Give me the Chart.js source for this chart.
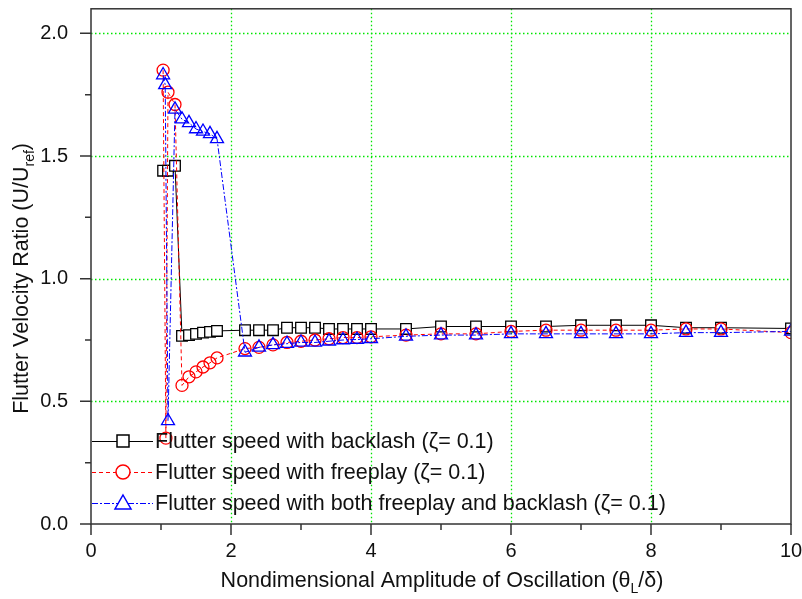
<!DOCTYPE html>
<html>
<head>
<meta charset="utf-8">
<script src="https://cdn.jsdelivr.net/npm/chart.js@4.4.0/dist/chart.umd.min.js"></script>
<style>
  html, body { margin: 0; padding: 0; background: #fff; }
  #wrap { width: 802px; height: 599px; position: relative; }
</style>
</head>
<body>
<div id="wrap"><canvas id="chart" width="802" height="599"></canvas></div>
<script>
// Dados
const backlashX = [1.03, 1.1, 1.2, 1.3, 1.4, 1.5, 1.6, 1.7, 1.8, 2.2, 2.4, 2.6, 2.8, 3.0, 3.2, 3.4, 3.6, 3.8, 4.0, 4.5, 5.0, 5.5, 6.0, 6.5, 7.0, 7.5, 8.0, 8.5, 9.0, 10.0];
const backlashY = [1.44, 1.44, 1.46, 0.767, 0.77, 0.775, 0.78, 0.783, 0.787, 0.79, 0.79, 0.79, 0.80, 0.80, 0.80, 0.795, 0.795, 0.795, 0.795, 0.795, 0.805, 0.805, 0.805, 0.805, 0.81, 0.81, 0.81, 0.80, 0.80, 0.797];

const freeplayX = [1.03, 1.07, 1.1, 1.2, 1.3, 1.4, 1.5, 1.6, 1.7, 1.8, 2.2, 2.4, 2.6, 2.8, 3.0, 3.2, 3.4, 3.6, 3.8, 4.0, 4.5, 5.0, 5.5, 6.0, 6.5, 7.0, 7.5, 8.0, 8.5, 9.0, 10.0];
const freeplayY = [1.85, 0.35, 1.76, 1.71, 0.565, 0.60, 0.62, 0.64, 0.657, 0.677, 0.715, 0.72, 0.73, 0.74, 0.745, 0.75, 0.755, 0.76, 0.76, 0.763, 0.77, 0.775, 0.775, 0.785, 0.79, 0.79, 0.79, 0.79, 0.795, 0.795, 0.78];

const bothX = [1.03, 1.06, 1.1, 1.2, 1.3, 1.4, 1.5, 1.6, 1.7, 1.8, 2.2, 2.4, 2.6, 2.8, 3.0, 3.2, 3.4, 3.6, 3.8, 4.0, 4.5, 5.0, 5.5, 6.0, 6.5, 7.0, 7.5, 8.0, 8.5, 9.0, 10.0];
const bothY = [1.83, 1.79, 0.42, 1.69, 1.65, 1.635, 1.61, 1.60, 1.59, 1.57, 0.70, 0.72, 0.73, 0.735, 0.74, 0.74, 0.745, 0.75, 0.752, 0.755, 0.765, 0.77, 0.77, 0.775, 0.775, 0.775, 0.775, 0.775, 0.78, 0.78, 0.785];

const xMajorTicks = [0, 2, 4, 6, 8, 10];
const xMinorTicks = [1, 3, 5, 7, 9];
const yMajorTicks = [0, 0.5, 1.0, 1.5, 2.0];
const yMinorTicks = [0.25, 0.75, 1.25, 1.75];

const legendLabels = [
    'Flutter speed with backlash (\u03B6= 0.1)',
    'Flutter speed with freeplay (\u03B6= 0.1)',
    'Flutter speed with both freeplay and backlash (\u03B6= 0.1)'
];

const FONT = '"Liberation Sans", Arial, sans-serif';

function toPoints(xs, ys) {
    return xs.map((x, i) => ({ x: x, y: ys[i] }));
}

// Desenha grade, moldura, marcas, títulos e legenda
const decorPlugin = {
    id: 'decor',
    beforeDatasetsDraw(chart) {
        const ctx = chart.ctx;
        const a = chart.chartArea;
        const xs = chart.scales.x, ys = chart.scales.y;
        ctx.save();
        ctx.strokeStyle = '#00e600';
        ctx.lineWidth = 1.3;
        ctx.setLineDash([1.5, 2.5]);
        xMajorTicks.forEach(v => {
            if (v === 0 || v === 10) return;
            const px = Math.round(xs.getPixelForValue(v)) + 0.5;
            ctx.beginPath(); ctx.moveTo(px, a.top); ctx.lineTo(px, a.bottom); ctx.stroke();
        });
        yMajorTicks.forEach(v => {
            if (v === 0) return;
            const py = Math.round(ys.getPixelForValue(v)) + 0.5;
            ctx.beginPath(); ctx.moveTo(a.left, py); ctx.lineTo(a.right, py); ctx.stroke();
        });
        ctx.restore();
    },
    afterDraw(chart) {
        const ctx = chart.ctx;
        const a = chart.chartArea;
        const xs = chart.scales.x, ys = chart.scales.y;
        ctx.save();
        ctx.setLineDash([]);
        ctx.strokeStyle = '#333';
        ctx.lineWidth = 1.5;
        ctx.strokeRect(a.left, a.top, a.right - a.left, a.bottom - a.top);

        // marcas dos eixos
        ctx.beginPath();
        xMajorTicks.forEach(v => {
            const px = xs.getPixelForValue(v);
            ctx.moveTo(px, a.bottom); ctx.lineTo(px, a.bottom + 11);
        });
        xMinorTicks.forEach(v => {
            const px = xs.getPixelForValue(v);
            ctx.moveTo(px, a.bottom); ctx.lineTo(px, a.bottom + 6);
        });
        yMajorTicks.forEach(v => {
            const py = ys.getPixelForValue(v);
            ctx.moveTo(a.left, py); ctx.lineTo(a.left - 11, py);
        });
        yMinorTicks.forEach(v => {
            const py = ys.getPixelForValue(v);
            ctx.moveTo(a.left, py); ctx.lineTo(a.left - 6, py);
        });
        ctx.stroke();

        // título do eixo x com subscrito
        ctx.fillStyle = '#111';
        ctx.textBaseline = 'alphabetic';
        const big = '21.5px ' + FONT, small = '14px ' + FONT;
        const xParts = [['Nondimensional Amplitude of Oscillation (\u03B8', big, 0], ['L', small, 6], ['/\u03B4)', big, 0]];
        drawParts(ctx, xParts, (a.left + a.right) / 2 + 1, 587);

        // título do eixo y, girado
        ctx.save();
        ctx.translate(28, (a.top + a.bottom) / 2 + 12);
        ctx.rotate(-Math.PI / 2);
        const yParts = [['Flutter Velocity Ratio (U/U', big, 0], ['ref', small, 6], [')', big, 0]];
        drawParts(ctx, yParts, 0, 0);
        ctx.restore();

        // legenda
        const styles = [
            { color: '#000', dash: [], shape: 'square' },
            { color: '#ff0000', dash: [4, 3], shape: 'circle' },
            { color: '#0000ff', dash: [6, 2, 2, 2], shape: 'triangle' }
        ];
        ctx.font = '21.5px ' + FONT;
        styles.forEach((s, i) => {
            const y = 441 + i * 31;
            ctx.strokeStyle = s.color;
            ctx.lineWidth = 1.2;
            ctx.setLineDash(s.dash);
            ctx.beginPath(); ctx.moveTo(a.left + 1, y + 0.5); ctx.lineTo(a.left + 62, y + 0.5); ctx.stroke();
            ctx.setLineDash([]);
            ctx.lineWidth = 1.5;
            ctx.fillStyle = '#fff';
            const mx = a.left + 32;
            ctx.beginPath();
            if (s.shape === 'square') {
                ctx.rect(mx - 6, y - 6, 12, 12);
            } else if (s.shape === 'circle') {
                ctx.arc(mx, y, 7, 0, Math.PI * 2);
            } else {
                ctx.moveTo(mx, y - 8); ctx.lineTo(mx + 8, y + 6); ctx.lineTo(mx - 8, y + 6); ctx.closePath();
            }
            ctx.fill(); ctx.stroke();
            ctx.fillStyle = '#111';
            ctx.textAlign = 'left';
            ctx.textBaseline = 'middle';
            ctx.fillText(legendLabels[i], a.left + 64, y + 1);
        });
        ctx.restore();
    }
};

// Desenha texto em partes (para subscritos), centrado em cx
function drawParts(ctx, parts, cx, baseY) {
    let total = 0;
    parts.forEach(p => { ctx.font = p[1]; total += ctx.measureText(p[0]).width; });
    let x = cx - total / 2;
    ctx.textAlign = 'left';
    parts.forEach(p => {
        ctx.font = p[1];
        ctx.fillText(p[0], x, baseY + p[2]);
        x += ctx.measureText(p[0]).width;
    });
}

function noPadding(scale) {
    scale.paddingLeft = 0;
    scale.paddingRight = 0;
    scale.paddingTop = 0;
    scale.paddingBottom = 0;
}

const ctx = document.getElementById('chart');
new Chart(ctx, {
    type: 'line',
    data: {
        datasets: [
            {
                label: legendLabels[0],
                data: toPoints(backlashX, backlashY),
                borderColor: '#000',
                borderWidth: 1,
                pointStyle: 'rect',
                pointRadius: 7.5,
                pointBorderWidth: 1.3,
                pointBackgroundColor: '#fff',
                pointBorderColor: '#000',
                order: 2
            },
            {
                label: legendLabels[1],
                data: toPoints(freeplayX, freeplayY),
                borderColor: '#ff0000',
                borderWidth: 1,
                borderDash: [4, 3],
                pointStyle: 'circle',
                pointRadius: 6,
                pointBorderWidth: 1.3,
                pointBackgroundColor: 'rgba(255,255,255,0)',
                pointBorderColor: '#ff0000',
                order: 1
            },
            {
                label: legendLabels[2],
                data: toPoints(bothX, bothY),
                borderColor: '#0000ff',
                borderWidth: 1,
                borderDash: [6, 2, 2, 2],
                pointStyle: 'triangle',
                pointRadius: 7.5,
                pointBorderWidth: 1.3,
                pointBackgroundColor: 'rgba(255,255,255,0)',
                pointBorderColor: '#0000ff',
                order: 0
            }
        ]
    },
    options: {
        responsive: false,
        animation: false,
        layout: { padding: { left: 0, top: 6, right: 11, bottom: 0 } },
        plugins: {
            legend: { display: false },
            tooltip: { enabled: false }
        },
        scales: {
            x: {
                type: 'linear',
                min: 0,
                max: 10,
                grid: { display: false, drawTicks: false },
                border: { display: false },
                ticks: {
                    stepSize: 2,
                    includeBounds: false,
                    maxRotation: 0,
                    padding: 15,
                    color: '#111',
                    font: { family: FONT, size: 20 }
                },
                afterFit(scale) { scale.height = 75; noPadding(scale); }
            },
            y: {
                type: 'linear',
                min: 0,
                max: 2.1,
                grid: { display: false, drawTicks: false },
                border: { display: false },
                ticks: {
                    stepSize: 0.5,
                    includeBounds: false,
                    padding: 23,
                    color: '#111',
                    font: { family: FONT, size: 20 },
                    callback: v => v.toFixed(1)
                },
                afterFit(scale) { scale.width = 91; noPadding(scale); }
            }
        }
    },
    plugins: [decorPlugin]
});
</script>
</body>
</html>
